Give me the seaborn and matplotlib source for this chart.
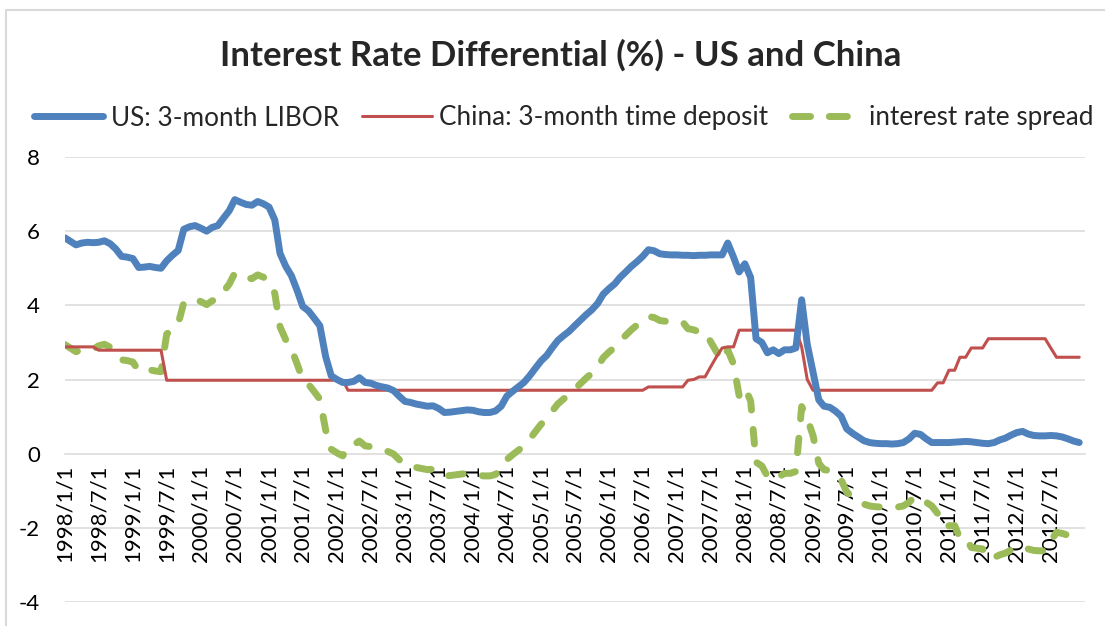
import numpy as np
import pandas as pd
import matplotlib
matplotlib.use("Agg")
import matplotlib.pyplot as plt
from matplotlib.lines import Line2D
import seaborn as sns

# ---------------- data ----------------
dates = pd.date_range("1998-01-01", periods=180, freq="MS")

us_libor = [
    5.82, 5.72, 5.63, 5.68, 5.70, 5.69, 5.70, 5.74, 5.66, 5.52, 5.32, 5.30,
    5.26, 5.02, 5.03, 5.05, 5.02, 5.00, 5.20, 5.35, 5.48, 6.05, 6.12, 6.15,
    6.08, 6.00, 6.10, 6.15, 6.35, 6.55, 6.85, 6.78, 6.72, 6.70, 6.80, 6.74,
    6.65, 6.30, 5.40, 5.05, 4.80, 4.40, 3.97, 3.85, 3.65, 3.45, 2.62, 2.10,
    2.00, 1.92, 1.92, 1.95, 2.05, 1.92, 1.90, 1.84, 1.80, 1.77, 1.70, 1.55,
    1.41, 1.38, 1.34, 1.31, 1.28, 1.29, 1.22, 1.11, 1.12, 1.14, 1.16, 1.18,
    1.17, 1.13, 1.11, 1.11, 1.15, 1.28, 1.55, 1.68, 1.80, 1.92, 2.10, 2.30,
    2.50, 2.65, 2.85, 3.05, 3.18, 3.30, 3.45, 3.60, 3.75, 3.88, 4.05, 4.30,
    4.45, 4.58, 4.75, 4.90, 5.05, 5.18, 5.32, 5.50, 5.47, 5.39, 5.37, 5.36,
    5.36, 5.35, 5.35, 5.34, 5.35, 5.35, 5.36, 5.36, 5.36, 5.68, 5.30, 4.90,
    5.12, 4.75, 3.10, 3.00, 2.72, 2.80, 2.70, 2.80, 2.80, 2.85, 4.15, 2.95,
    2.20, 1.45, 1.28, 1.25, 1.15, 1.01, 0.67, 0.55, 0.45, 0.35, 0.30, 0.28,
    0.27, 0.27, 0.26, 0.27, 0.30, 0.40, 0.55, 0.52, 0.40, 0.30, 0.30, 0.30,
    0.30, 0.31, 0.32, 0.33, 0.32, 0.30, 0.28, 0.27, 0.30, 0.37, 0.42, 0.50,
    0.57, 0.60, 0.53, 0.49, 0.48, 0.48, 0.49, 0.48, 0.45, 0.40, 0.34, 0.30,
]

china_deposit = (
    [2.88] * 6 + [2.79] * 12 + [1.98] * 32 + [1.71] * 53 + [1.80] * 7
    + [1.98, 2.00, 2.07, 2.07, 2.34, 2.61, 2.85, 2.88, 2.88]
    + [3.33] * 11 + [2.88, 2.00]
    + [1.71] * 22 + [1.91, 1.91, 2.25, 2.25, 2.60, 2.60, 2.85, 2.85, 2.85]
    + [3.10] * 11 + [2.85] + [2.60] * 5
)

rate_spread = [
    2.94, 2.84, 2.75, 2.80, 2.82, 2.81, 2.91, 2.95, 2.87, 2.73, 2.53, 2.51,
    2.47, 2.23, 2.24, 2.26, 2.23, 2.21, 3.22, 3.37, 3.50, 4.07, 4.14, 4.17,
    4.10, 4.02, 4.12, 4.17, 4.37, 4.57, 4.87, 4.80, 4.74, 4.72, 4.82, 4.76,
    4.67, 4.32, 3.42, 3.07, 2.82, 2.42, 1.99, 1.87, 1.67, 1.47, 0.64, 0.12,
    0.02, -0.06, 0.21, 0.24, 0.34, 0.21, 0.19, 0.13, 0.09, 0.06, -0.01, -0.16,
    -0.30, -0.33, -0.37, -0.40, -0.43, -0.42, -0.49, -0.60, -0.59, -0.57, -0.55, -0.53,
    -0.54, -0.58, -0.60, -0.60, -0.56, -0.43, -0.16, -0.03, 0.09, 0.21, 0.39, 0.59,
    0.79, 0.94, 1.14, 1.34, 1.47, 1.59, 1.74, 1.89, 2.04, 2.17, 2.34, 2.59,
    2.74, 2.87, 3.04, 3.19, 3.34, 3.47, 3.61, 3.70, 3.67, 3.59, 3.57, 3.56,
    3.56, 3.55, 3.37, 3.34, 3.28, 3.28, 3.02, 2.75, 2.51, 2.80, 2.42, 1.57,
    1.79, 1.42, -0.23, -0.33, -0.61, -0.53, -0.63, -0.53, -0.53, -0.48, 1.27, 0.95,
    0.49, -0.26, -0.43, -0.46, -0.56, -0.70, -1.04, -1.16, -1.26, -1.36, -1.41, -1.43,
    -1.44, -1.44, -1.45, -1.44, -1.41, -1.31, -1.16, -1.19, -1.31, -1.41, -1.61, -1.61,
    -1.95, -1.94, -2.28, -2.27, -2.53, -2.55, -2.57, -2.83, -2.80, -2.73, -2.68, -2.60,
    -2.53, -2.50, -2.57, -2.61, -2.62, -2.62, -2.36, -2.12, -2.15, -2.20, -2.26, -2.30,
]

series_names = ["US: 3-month LIBOR", "China: 3-month time deposit", "interest rate spread"]
y_ticks = [-4, -2, 0, 2, 4, 6, 8]

df = pd.DataFrame({
    "date": dates,
    "us": us_libor,
    "china": china_deposit,
    "spread": rate_spread,
})

# ---------------- style ----------------
sns.set_style("white")
plt.rcParams["font.family"] = ["Lato", "DejaVu Sans"]

BLUE = "#4F81BD"
RED = "#C0504D"
GREEN = "#9BBB59"
GRID = "#D9D9D9"

fig = plt.figure(figsize=(11.05, 6.26), dpi=100)
ax = fig.add_axes([65 / 1105, 1 - 602 / 626, 1020 / 1105, (602 - 157) / 626])

sns.lineplot(data=df, x="date", y="spread", ax=ax, color=GREEN, linewidth=5.0, zorder=2)
sns.lineplot(data=df, x="date", y="china", ax=ax, color=RED, linewidth=2.2, zorder=3)
sns.lineplot(data=df, x="date", y="us", ax=ax, color=BLUE, linewidth=5.0, zorder=4)

lines = ax.get_lines()
g_line, r_line, b_line = lines[0], lines[1], lines[2]
g_line.set_dashes([2.1, 2.8])
g_line.set_dash_capstyle("round")
for ln in (b_line, r_line, g_line):
    ln.set_solid_capstyle("round")
    ln.set_solid_joinstyle("round")
    ln.set_dash_joinstyle("round")

ax.set_ylim(-4, 8)
ax.set_xlim(pd.Timestamp("1998-01-01"), pd.Timestamp("2013-01-01"))
ax.set_yticks(y_ticks)
ax.set_yticklabels([str(v) for v in y_ticks])

tick_dates = pd.date_range("1998-01-01", "2013-01-01", freq="6MS")
ax.set_xticks(tick_dates)
labels = [f"{d.year}/{d.month}/1" for d in tick_dates]
labels[-1] = ""
ax.set_xticklabels(labels)

for v in y_ticks:
    if v != 0:
        ax.axhline(v, color=GRID, linewidth=1.1, zorder=0)

for s in ["top", "right", "left"]:
    ax.spines[s].set_visible(False)
ax.spines["bottom"].set_position(("data", 0))
ax.spines["bottom"].set_color(GRID)
ax.spines["bottom"].set_linewidth(1.1)
ax.spines["bottom"].set_zorder(1)

ax.tick_params(axis="x", direction="out", length=5, width=1.1, color=GRID,
               labelsize=16, pad=3, labelcolor="black", labelrotation=90)
for lab in ax.get_xticklabels():
    lab.set_rotation(90)
    lab.set_va("top")
    lab.set_ha("center")
ax.tick_params(axis="y", length=0, labelsize=16, pad=18, labelcolor="black")
ax.set_xlabel("")
ax.set_ylabel("")
ax.grid(False)

# legend
handles = [
    Line2D([], [], color=BLUE, linewidth=5.0, solid_capstyle="round"),
    Line2D([], [], color=RED, linewidth=2.2, solid_capstyle="round"),
    Line2D([], [], color=GREEN, linewidth=5.0, dashes=[2.6, 2.7], dash_capstyle="round"),
]
fig.legend(handles, series_names, loc="center", bbox_to_anchor=(0.51, 1 - 118 / 626),
           ncol=3, frameon=False, fontsize=18.8, handlelength=2.65, handletextpad=0.3,
           columnspacing=0.9)

fig.text(0.507, 1 - 55 / 626, "Interest Rate Differential (%) - US and China",
         ha="center", va="center", fontsize=25, fontweight="bold")

# chart area border
fig.add_artist(Line2D([6 / 1105, 6 / 1105], [0, 1 - 10 / 626], color=GRID, linewidth=1.5,
                      transform=fig.transFigure))
fig.add_artist(Line2D([6 / 1105, 1], [1 - 10 / 626, 1 - 10 / 626], color=GRID, linewidth=1.5,
                      transform=fig.transFigure))

fig.savefig("out.png", dpi=100)
